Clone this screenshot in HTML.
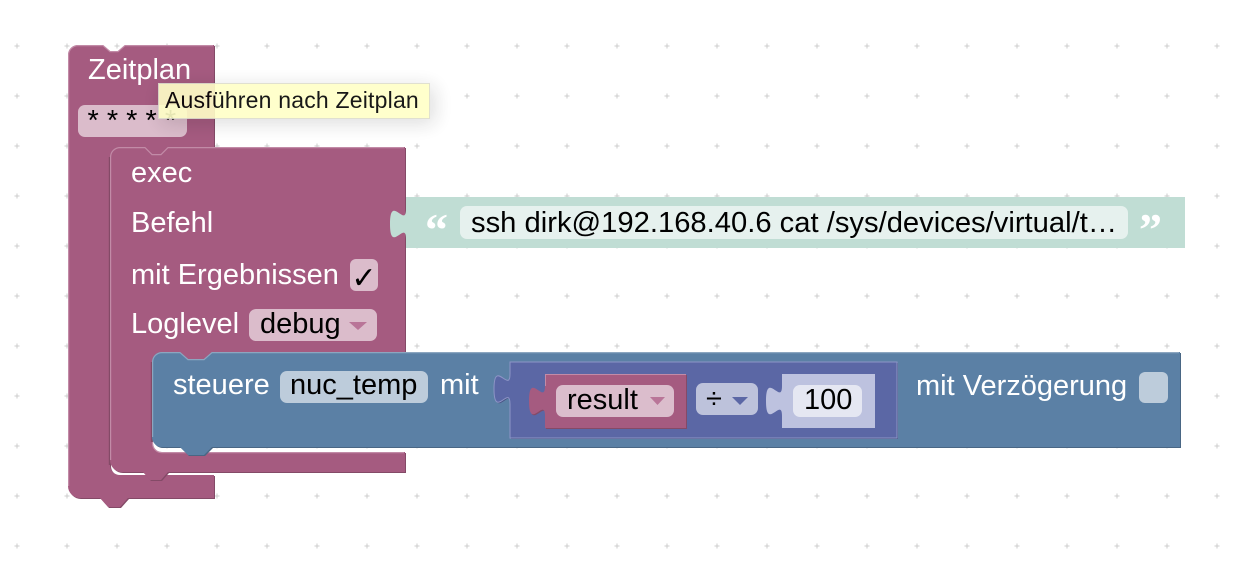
<!DOCTYPE html>
<html>
<head>
<meta charset="utf-8">
<style>
  html,body{margin:0;padding:0;background:#fff;}
  body{width:1252px;height:572px;position:relative;overflow:hidden;}
  svg{position:absolute;left:0;top:0;}
  .t{font-family:"Liberation Sans",Arial,sans-serif;font-size:29px;fill:#fff;}
  .f{font-family:"Liberation Sans",Arial,sans-serif;font-size:29px;fill:#000;}
  #tip{position:absolute;left:158px;top:83px;width:270px;height:34px;background:#ffffc7;border:1px solid #ddc;
       opacity:0.9;box-shadow:4px 4px 20px 1px rgba(0,0,0,.15);box-sizing:content-box;}
  #tip span{position:absolute;left:6px;top:3px;font-family:"Liberation Sans",Arial,sans-serif;font-size:23px;color:#000;white-space:nowrap;letter-spacing:0.2px;}
</style>
</head>
<body>
<svg width="1252" height="572" viewBox="0 0 1252 572" xmlns="http://www.w3.org/2000/svg">
  <defs>
    <pattern id="grid" x="0" y="0" width="50" height="50" patternUnits="userSpaceOnUse">
      <line x1="14.5" y1="46" x2="19.5" y2="46" stroke="#cccccc" stroke-width="1"/>
      <line x1="17" y1="43.5" x2="17" y2="48.5" stroke="#cccccc" stroke-width="1"/>
    </pattern>
  </defs>
  <rect width="1252" height="572" fill="#ffffff"/>
  <rect width="1252" height="572" fill="url(#grid)"/>

  <!-- Zeitplan block -->
  <g>
    <path transform="translate(1,1)" fill="#844a67" d="M68,55 A10,10 0 0 1 78,45 H103 L110,51 H118 L125,45 H214 V147 H168 L161,154 H152 L145,147 H120 A10,10 0 0 0 110,157 V465 A10,10 0 0 0 120,475 H214 V498 H128 L120,507 H108 L100,498 H80 A12,12 0 0 1 68,486 Z"/>
    <path fill="#a55b80" d="M68,55 A10,10 0 0 1 78,45 H103 L110,51 H118 L125,45 H214 V147 H168 L161,154 H152 L145,147 H120 A10,10 0 0 0 110,157 V465 A10,10 0 0 0 120,475 H214 V498 H128 L120,507 H108 L100,498 H80 A12,12 0 0 1 68,486 Z"/>
    <path fill="none" stroke="#c28ba7" stroke-width="1.2" d="M68.6,486 V55 A9.4,9.4 0 0 1 78,45.6 H103 L110,51.6 H118 L125,45.6 H213"/>
    <path fill="none" stroke="#844a67" stroke-width="1.2" d="M109.4,157 V465"/>
    <text class="t" x="88" y="79">Zeitplan</text>
    <rect x="78" y="105" width="109" height="32" rx="7" fill="#dbbccb"/>
    <text class="f" x="87.5" y="130">* * * * *</text>
  </g>

  <!-- exec block -->
  <g>
    <path transform="translate(1,1)" fill="#844a67" d="M110,157 A10,10 0 0 1 120,147 H145 L152,154 H161 L168,147 H405 V352 H212 L204,359 H188 L180,352 H162 A10,10 0 0 0 152,362 V442 A10,10 0 0 0 162,452 H405 V472 H168 L161,480 H150 L143,472 H122 A12,12 0 0 1 110,460 Z"/>
    <path fill="#a55b80" d="M110,157 A10,10 0 0 1 120,147 H145 L152,154 H161 L168,147 H405 V352 H212 L204,359 H188 L180,352 H162 A10,10 0 0 0 152,362 V442 A10,10 0 0 0 162,452 H405 V472 H168 L161,480 H150 L143,472 H122 A12,12 0 0 1 110,460 Z"/>
    <path fill="none" stroke="#c28ba7" stroke-width="1.2" d="M110.6,460 V157 A9.4,9.4 0 0 1 120,147.6 H145 L152,154.6 H161 L168,147.6 H404"/>
    <path fill="none" stroke="#c28ba7" stroke-width="1.2" d="M152.6,442 A9.4,9.4 0 0 0 162,452.6 H404"/>
    <path fill="none" stroke="#844a67" stroke-width="1.2" d="M151.4,362 V442"/>
    <text class="t" x="131" y="182">exec</text>
    <text class="t" x="131" y="232">Befehl</text>
    <text class="t" x="131" y="284">mit Ergebnissen</text>
    <rect x="350" y="259" width="28" height="32" rx="6" fill="#dbbccb"/>
    <text x="364" y="288" text-anchor="middle" font-family="DejaVu Sans, sans-serif" font-size="30" font-weight="bold" fill="#000">✓</text>
    <text class="t" x="131" y="333">Loglevel</text>
    <rect x="249" y="309" width="128" height="32" rx="7" fill="#dbbccb"/>
    <text class="f" x="260" y="333">debug</text>
    <polygon points="349,322 367,322 358,330" fill="#b97598"/>
  </g>

  <!-- green text block -->
  <g>
    <path fill="#c0ddd4" d="M406,197 H1185 V248 H406 V239 c0,-20 -16,16 -16,-15 s16,5 16,-15 Z"/>
    <text x="425" y="245" font-family="Liberation Serif, serif" font-size="46" font-weight="bold" fill="#fff">“</text>
    <rect x="460" y="206" width="668" height="33" rx="7" fill="#e6f1ee"/>
    <text class="f" x="471" y="232" textLength="646" lengthAdjust="spacingAndGlyphs">ssh dirk@192.168.40.6 cat /sys/devices/virtual/t…</text>
    <text x="1139" y="245" font-family="Liberation Serif, serif" font-size="46" font-weight="bold" fill="#fff">”</text>
  </g>

  <!-- blue block -->
  <g>
    <path transform="translate(1,1)" fill="#496684" d="M152,362 A10,10 0 0 1 162,352 H180 L188,359 H204 L212,352 H1180 V447 H212 L204,455 H188 L180,447 H162 A10,10 0 0 1 152,437 Z"/>
    <path fill="#5b80a5" d="M152,362 A10,10 0 0 1 162,352 H180 L188,359 H204 L212,352 H1180 V447 H212 L204,455 H188 L180,447 H162 A10,10 0 0 1 152,437 Z"/>
    <path fill="none" stroke="#8ca6c0" stroke-width="1.2" d="M152.6,437 V362 A9.4,9.4 0 0 1 162,352.6 H180 L188,359.6 H204 L212,352.6 H1179"/>
    <text class="t" x="173" y="394">steuere</text>
    <rect x="280" y="371" width="148" height="32" rx="7" fill="#bdccdb"/>
    <text class="f" x="290" y="394">nuc_temp</text>
    <text class="t" x="440" y="394">mit</text>
    <text class="t" x="916" y="395">mit Verzögerung</text>
    <rect x="1139" y="372" width="29" height="31" rx="6" fill="#bdccdb"/>
  </g>

  <!-- math block -->
  <g>
    <path transform="translate(1,1)" fill="#495284" d="M510,362 H897 V438 H510 V404 c0,-20 -16,16 -16,-15 s16,5 16,-15 Z"/>
    <path fill="#5b67a5" stroke="#8d95c6" stroke-width="1" d="M510,362 H897 V438 H510 V404 c0,-20 -16,16 -16,-15 s16,5 16,-15 Z"/>
    <!-- result -->
    <path transform="translate(1,1)" fill="#844a67" d="M545,374 H686 V428 H545 V416 c0,-20 -16,16 -16,-15 s16,5 16,-15 Z"/>
    <path fill="#a55b80" d="M545,374 H686 V428 H545 V416 c0,-20 -16,16 -16,-15 s16,5 16,-15 Z"/>
    <path fill="none" stroke="#c28ba7" stroke-width="1" d="M545.5,386 V374.5 H686"/>
    <rect x="556" y="385" width="118" height="32" rx="7" fill="#dbbdcc"/>
    <text class="f" x="567" y="409">result</text>
    <polygon points="650,397 665,397 657.5,405" fill="#b97598"/>
    <!-- operator -->
    <rect x="696" y="383" width="62" height="32" rx="7" fill="#bdc2db"/>
    <text class="f" x="706" y="408">÷</text>
    <polygon points="732,397 748,397 740,405" fill="#5b67a5"/>
    <!-- number -->
    <path fill="#bdc2df" d="M782,374 H875 V428 H782 V416 c0,-20 -16,16 -16,-15 s16,5 16,-15 Z"/>
    <rect x="793" y="385" width="69" height="32" rx="7" fill="#e5e7f2"/>
    <text class="f" x="804" y="409">100</text>
  </g>
</svg>
<div id="tip"><span>Ausführen nach Zeitplan</span></div>
</body>
</html>
